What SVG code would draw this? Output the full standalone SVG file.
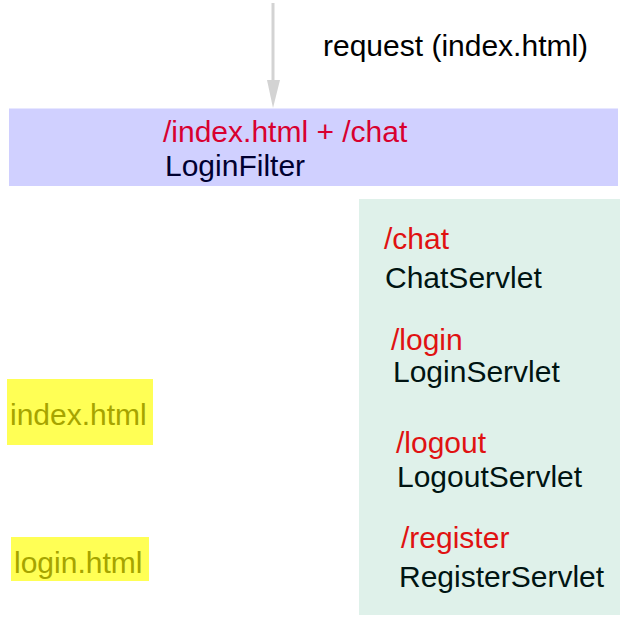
<svg xmlns="http://www.w3.org/2000/svg" width="630" height="630" viewBox="0 0 630 630">
<style>
text{font-family:"Liberation Sans",Arial,sans-serif;font-size:30px}
.url{fill:#e01212}
.cls{fill:#001412}
.html{fill:#a6a400}
</style>
<rect width="630" height="630" fill="#fff"/>
<g id="connectors">
<line x1="273" y1="3" x2="273" y2="82" stroke="#d3d3d3" stroke-width="3"/>
<path d="M267,80 L280,80 L273,108 Z" fill="#d3d3d3"/>
<text x="323" y="56" fill="#000">request (index.html)</text>
</g>
<g id="loginfilter">
<rect x="9" y="108.5" width="609" height="77.5" fill="#d0d0ff"/>
<text x="163" y="141.5" fill="#d80030">/index.html + /chat</text>
<text x="165" y="175.5" fill="#000030">LoginFilter</text>
</g>
<g id="servlets">
<rect x="359" y="199" width="261" height="416" fill="#dff1ea"/>
<text class="url" x="384" y="249">/chat</text>
<text class="cls" x="385" y="288">ChatServlet</text>
<text class="url" x="391" y="350">/login</text>
<text class="cls" x="393" y="382">LoginServlet</text>
<text class="url" x="396" y="453">/logout</text>
<text class="cls" x="397" y="487">LogoutServlet</text>
<text class="url" x="401" y="548">/register</text>
<text class="cls" x="399" y="587">RegisterServlet</text>
</g>
<g id="index-html">
<rect x="7" y="379" width="146" height="66" fill="#ffff55"/>
<text class="html" x="10" y="425">index.html</text>
</g>
<g id="login-html">
<rect x="11" y="537" width="138" height="44" fill="#ffff55"/>
<text class="html" x="14" y="573">login.html</text>
</g>
</svg>
